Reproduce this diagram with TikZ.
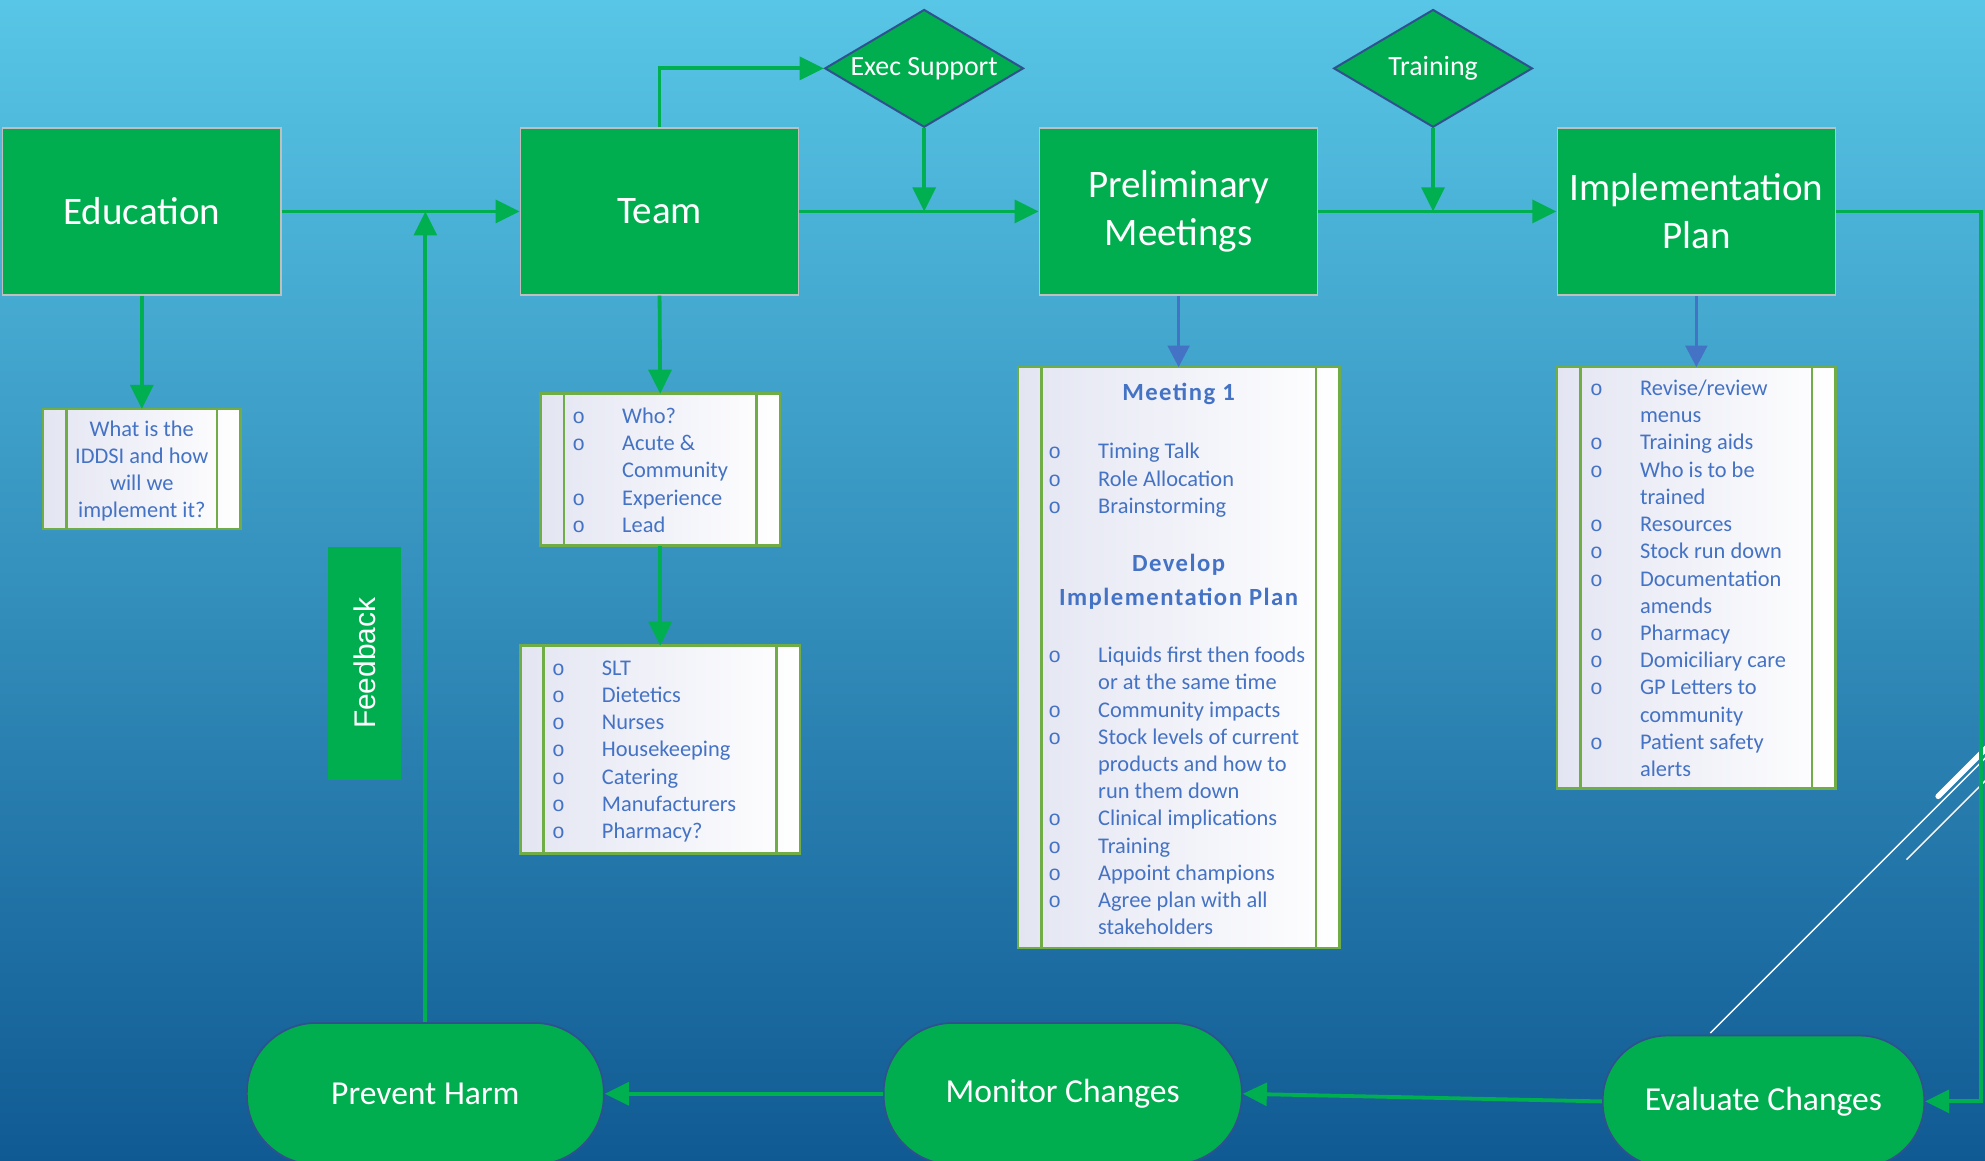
\documentclass[tikz,border=0pt]{standalone}
\usepackage{fontspec}
\setmainfont{Carlito}
\newfontfamily\featfont{Liberation Sans}
\newfontfamily\bulletfont{Liberation Mono}
\newfontfamily\headfont[LetterSpace=6]{Carlito}
\usetikzlibrary{shapes.geometric,arrows.meta}

\definecolor{boxgreen}{HTML}{00AE4F}
\definecolor{linkgreen}{HTML}{00B050}
\definecolor{listblue}{HTML}{4472C4}
\definecolor{edgeblue}{HTML}{2F528F}
\definecolor{procgreen}{HTML}{70AD47}
\definecolor{bgtop}{HTML}{58C6E6}
\definecolor{bgmid}{HTML}{3494C6}
\definecolor{bgbot}{HTML}{105A93}
\definecolor{lav}{HTML}{E3E5F2}

\newcommand\bulletmark{{\bulletfont\fontsize{8.4pt}{10.75pt}\selectfont o}}
\newcommand\boxlistfont{\fontsize{8.85pt}{10.75pt}\selectfont}
\newcommand\boxheadfont{\headfont\bfseries\fontsize{9.75pt}{13.5pt}\selectfont}

% inner bars of a predefined-process box
\newcommand\procbars[1]{%
  \draw[procgreen, line width=1pt]
    ([xshift=9.25pt]#1.north west) -- ([xshift=9.25pt]#1.south west)
    ([xshift=-9.25pt]#1.north east) -- ([xshift=-9.25pt]#1.south east);}

\tikzset{
  stepbox/.style={draw=black!25, line width=0.5pt, fill=boxgreen, text=white,
    minimum width=110pt, minimum height=66pt, align=center, inner sep=0pt,
    font=\fontsize{15.4pt}{19pt}\selectfont},
  choice/.style={diamond, draw=edgeblue, line width=0.8pt, fill=boxgreen, text=white,
    minimum width=78.5pt, minimum height=46.5pt, aspect=1.69, inner sep=0pt,
    font=\fontsize{11pt}{13pt}\selectfont},
  terminal/.style={draw=edgeblue, line width=0.7pt, fill=boxgreen, text=white,
    inner sep=0pt, font=\fontsize{13.25pt}{16pt}\selectfont},
  procbox/.style={draw=procgreen, line width=1pt, left color=lav, right color=white,
    inner sep=0pt, outer sep=0pt},
  listtext/.style={anchor=north west, inner sep=0pt, text=listblue, font=\boxlistfont},
  flow/.style={draw=linkgreen, line width=1.5pt, -{Triangle[length=9.5pt,width=9pt]}},
  flowblue/.style={draw=listblue, line width=1.4pt, -{Triangle[length=8.5pt,width=8.5pt]}},
  deco/.style={white, line width=0.6pt},
}

\begin{document}
\begin{tikzpicture}[x=0.5pt, y=-0.5pt]
  \useasboundingbox (0,0) rectangle (1568,917);
  \shade[top color=bgtop, middle color=bgmid, bottom color=bgbot] (0,0) rectangle (1568,917);

  % slide ornament
  \draw[white, line width=2.2pt, line cap=round] (1531,629) -- (1570,590);
  \draw[deco] (1351,816) -- (1570,597);
  \draw[deco] (1506,679) -- (1570,615);

  % main steps
  \node[stepbox] (edu)  at (112,167)  {Education};
  \node[stepbox] (team) at (521,167)  {Team};
  \node[stepbox] (pre)  at (931,167)  {Preliminary\\Meetings};
  \node[stepbox] (impl) at (1340,167) {Implementation\\Plan};

  \node[choice] (exec)  at (730,54)  {Exec Support};
  \node[choice] (train) at (1132,54) {Training};

  % detail boxes
  \node[procbox, minimum width=78pt, minimum height=47.5pt] (q) at (112,370.5) {};
  \procbars{q}
  \node[text=listblue, font=\boxlistfont, align=center, inner sep=0pt] (qt) at (112,372)
    {What is the\\IDDSI and how\\will we\\implement it?};

  \node[procbox, minimum width=94.5pt, minimum height=60pt] (tl1) at (521.5,371) {};
  \procbars{tl1}
  \node[listtext] (tl1t) at (451.7,319) {\begin{tabular}{@{}p{19.7pt}@{}l@{}}
    \bulletmark & Who?\\
    \bulletmark & Acute \&\\
                & Community\\
    \bulletmark & Experience\\
    \bulletmark & Lead
  \end{tabular}};

  \node[procbox, minimum width=110.5pt, minimum height=82pt] (tl2) at (521.5,592) {};
  \procbars{tl2}
  \node[listtext] (tl2t) at (435.7,518) {\begin{tabular}{@{}p{19.7pt}@{}l@{}}
    \bulletmark & SLT\\
    \bulletmark & Dietetics\\
    \bulletmark & Nurses\\
    \bulletmark & Housekeeping\\
    \bulletmark & Catering\\
    \bulletmark & Manufacturers\\
    \bulletmark & Pharmacy?
  \end{tabular}};

  \node[procbox, minimum width=127pt, minimum height=229.5pt] (meet) at (931,519.5) {};
  \procbars{meet}
  \node[text=listblue, font=\boxheadfont, inner sep=0pt] (m1) at (931,311) {Meeting 1};
  \node[listtext] (m1t) at (827.7,347) {\begin{tabular}{@{}p{19.7pt}@{}l@{}}
    \bulletmark & Timing Talk\\
    \bulletmark & Role Allocation\\
    \bulletmark & Brainstorming
  \end{tabular}};
  \node[text=listblue, font=\boxheadfont, align=center, inner sep=0pt] (dev) at (931,459.5)
    {Develop\\Implementation Plan};
  \node[listtext] (devt) at (827.7,508) {\begin{tabular}{@{}p{19.7pt}@{}l@{}}
    \bulletmark & Liquids first then foods\\
                & or at the same time\\
    \bulletmark & Community impacts\\
    \bulletmark & Stock levels of current\\
                & products and how to\\
                & run them down\\
    \bulletmark & Clinical implications\\
    \bulletmark & Training\\
    \bulletmark & Appoint champions\\
    \bulletmark & Agree plan with all\\
                & stakeholders
  \end{tabular}};

  \node[procbox, minimum width=110pt, minimum height=166.5pt] (il) at (1340,456.5) {};
  \procbars{il}
  \node[listtext] (ilt) at (1255.7,297) {\begin{tabular}{@{}p{19.7pt}@{}l@{}}
    \bulletmark & Revise/review\\
                & menus\\
    \bulletmark & Training aids\\
    \bulletmark & Who is to be\\
                & trained\\
    \bulletmark & Resources\\
    \bulletmark & Stock run down\\
    \bulletmark & Documentation\\
                & amends\\
    \bulletmark & Pharmacy\\
    \bulletmark & Domiciliary care\\
    \bulletmark & GP Letters to\\
                & community\\
    \bulletmark & Patient safety\\
                & alerts
  \end{tabular}};

  % feedback label
  \node[fill=boxgreen, rotate=90, minimum width=92pt, minimum height=29pt, inner sep=0pt,
        text=white, font=\featfont\fontsize{11.8pt}{14pt}\selectfont] (fb) at (288,524) {Feedback};

  % review loop
  \node[terminal, minimum width=141pt, minimum height=56pt, rounded corners=27.5pt] (prev) at (336,864) {Prevent Harm};
  \node[terminal, minimum width=141.5pt, minimum height=56pt, rounded corners=27.5pt] (mon) at (839.5,864) {Monitor Changes};
  \node[terminal, minimum width=127pt, minimum height=52pt, rounded corners=25.5pt] (eval) at (1393,870) {Evaluate Changes};
  \coordinate (rt) at (1565,500);

  % connectors
  \draw[flow] (edu.east) -- (team.west);
  \draw[flow] (team.east) -- (pre.west);
  \draw[flow] (pre.east) -- (impl.west);
  \draw[flow] (team.north) |- (exec.west);
  \draw[flow] (exec.south) -- (exec.south |- team.east);
  \draw[flow] (train.south) -- (train.south |- pre.east);
  \draw[flow] (prev.north) -- (prev.north |- edu.east);
  \draw[flow] (edu.south) -- (q.north);
  \draw[flow] (team.south) -- (tl1.north);
  \draw[flow] (tl1.south) -- (tl2.north);
  \draw[flowblue] (pre.south) -- (meet.north);
  \draw[flowblue] (impl.south) -- (il.north);
  \draw[flow] (impl.east) -| (rt) |- (eval.east);
  \draw[flow] (eval.west) -- (mon.east);
  \draw[flow] (mon.west) -- (prev.east);
\end{tikzpicture}
\end{document}
